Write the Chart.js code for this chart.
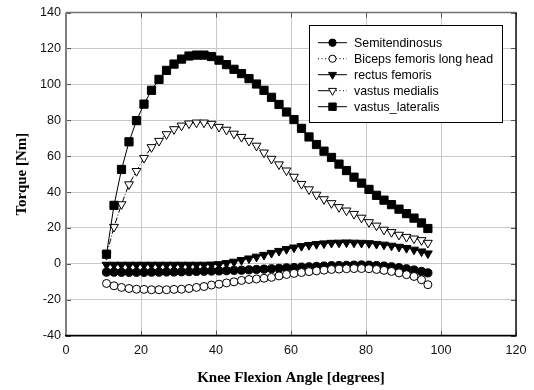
<!DOCTYPE html>
<html><head><meta charset="utf-8">
<script src="https://cdn.jsdelivr.net/npm/chart.js@4/dist/chart.umd.min.js"></script>
<style>html,body{margin:0;padding:0;background:#fff;}#c{display:block;}</style>
</head><body>
<canvas id="c" width="534" height="390"></canvas>
<script>
const angles = [10.8, 12.8, 14.8, 16.8, 18.8, 20.8, 22.8, 24.8, 26.8, 28.8, 30.8, 32.8, 34.8, 36.8, 38.8, 40.8, 42.8, 44.8, 46.8, 48.8, 50.8, 52.8, 54.8, 56.8, 58.8, 60.8, 62.8, 64.8, 66.8, 68.8, 70.8, 72.8, 74.8, 76.8, 78.8, 80.8, 82.8, 84.8, 86.8, 88.8, 90.8, 92.8, 94.8, 96.5];
const semitendinosus = [-4.6, -4.6, -4.7, -4.7, -4.7, -4.7, -4.6, -4.6, -4.5, -4.5, -4.4, -4.3, -4.2, -4.1, -4.0, -3.9, -3.8, -3.6, -3.5, -3.3, -3.1, -2.9, -2.7, -2.5, -2.2, -2.0, -1.8, -1.6, -1.4, -1.2, -1.0, -0.9, -0.8, -0.7, -0.6, -0.7, -0.9, -1.2, -1.6, -2.1, -2.7, -3.4, -4.2, -5.0];
const bicepsFemorisLongHead = [-10.9, -12.2, -13.1, -13.7, -14.1, -14.2, -14.4, -14.4, -14.4, -14.2, -14.1, -13.7, -13.1, -12.6, -11.8, -11.3, -10.6, -10.0, -9.2, -8.7, -8.4, -8.0, -7.5, -6.7, -5.9, -5.3, -4.8, -4.3, -3.9, -3.5, -3.1, -2.9, -2.7, -2.6, -2.6, -2.7, -3.1, -3.6, -4.2, -5.0, -6.0, -7.0, -8.8, -11.6];
const rectusFemoris = [-0.5, -0.5, -0.5, -0.5, -0.5, -0.5, -0.5, -0.5, -0.5, -0.5, -0.5, -0.5, -0.5, -0.5, -0.4, -0.2, 0.4, 1.2, 2.1, 3.0, 4.0, 5.0, 6.1, 7.2, 8.2, 9.1, 9.9, 10.5, 11.0, 11.4, 11.7, 11.8, 11.9, 11.8, 11.7, 11.5, 11.1, 10.7, 10.1, 9.5, 8.8, 7.9, 6.9, 5.8];
const vastusMedialis = [5.0, 20.6, 33.2, 44.3, 51.7, 59.0, 65.0, 68.5, 72.2, 75.0, 77.0, 78.2, 78.7, 78.7, 78.0, 76.3, 74.7, 72.5, 70.7, 68.5, 65.8, 62.0, 58.5, 55.4, 52.0, 48.5, 44.5, 41.5, 38.5, 36.0, 33.8, 31.6, 29.7, 27.8, 25.7, 23.2, 21.3, 19.0, 17.7, 16.2, 15.0, 14.1, 13.2, 11.7];
const vastusLateralis = [5.4, 32.6, 52.6, 68.0, 79.8, 89.0, 96.7, 102.8, 107.8, 111.3, 114.1, 115.8, 116.3, 116.3, 115.5, 113.5, 111.0, 108.4, 106.0, 103.2, 100.2, 96.7, 92.8, 88.8, 84.6, 80.4, 75.5, 70.7, 66.5, 62.8, 59.3, 55.6, 52.0, 48.3, 45.0, 41.5, 38.2, 35.5, 33.0, 30.5, 28.0, 25.5, 22.8, 19.7];
const seriesNames = ['Semitendinosus', 'Biceps femoris long head', 'rectus femoris', 'vastus medialis', 'vastus_lateralis'];
const xTicks = [0, 20, 40, 60, 80, 100, 120];
const yTicks = [-40, -20, 0, 20, 40, 60, 80, 100, 120, 140];
const xTitle = 'Knee Flexion Angle [degrees]';
const yTitle = 'Torque [Nm]';

const pts = vals => angles.map((a, i) => ({x: a, y: vals[i]}));
const SANS = 'Liberation Sans, Arial, sans-serif';
const SERIF = 'Liberation Serif, Times New Roman, serif';

const datasets = [
  {label: seriesNames[0], data: pts(semitendinosus), order: 5,
   borderColor: '#000', borderWidth: 1, borderDash: [],
   pointStyle: 'circle', pointRadius: 4.1, pointRotation: 0,
   pointBackgroundColor: '#000', pointBorderColor: '#000', pointBorderWidth: 1,
   legendDash: [[], []]},
  {label: seriesNames[1], data: pts(bicepsFemorisLongHead), order: 4,
   borderColor: '#000', borderWidth: 1, borderDash: [1, 2],
   pointStyle: 'circle', pointRadius: 4.0, pointRotation: 0,
   pointBackgroundColor: '#fff', pointBorderColor: '#000', pointBorderWidth: 1,
   legendDash: [[1, 2.5], [1, 2.5]]},
  {label: seriesNames[2], data: pts(rectusFemoris), order: 3,
   borderColor: '#000', borderWidth: 1, borderDash: [],
   pointStyle: 'triangle', pointRadius: 5.1, pointRotation: 180,
   pointBackgroundColor: '#000', pointBorderColor: '#000', pointBorderWidth: 1,
   legendDash: [[], []]},
  {label: seriesNames[3], data: pts(vastusMedialis), order: 2,
   borderColor: '#000', borderWidth: 1, borderDash: [6, 2, 1, 2],
   pointStyle: 'triangle', pointRadius: 5.1, pointRotation: 180,
   pointBackgroundColor: '#fff', pointBorderColor: '#000', pointBorderWidth: 1,
   legendDash: [[], [1, 2.5]]},
  {label: seriesNames[4], data: pts(vastusLateralis), order: 1,
   borderColor: '#000', borderWidth: 1, borderDash: [],
   pointStyle: 'rect', pointRadius: 5.8, pointRotation: 0,
   pointBackgroundColor: '#000', pointBorderColor: '#000', pointBorderWidth: 1,
   legendDash: [[], []]}
].map(d => Object.assign(d, {showLine: true, fill: false, tension: 0}));

const framePlugin = {
  id: 'frame',
  beforeDatasetsDraw(chart) {
    const {ctx, chartArea: a, scales: {x, y}} = chart;
    ctx.save();
    ctx.lineWidth = 1;
    ctx.strokeStyle = '#555';
    ctx.beginPath();
    xTicks.forEach(v => {
      const px = Math.round(x.getPixelForValue(v)) + 0.5;
      ctx.moveTo(px, a.bottom); ctx.lineTo(px, a.bottom - 5);
      ctx.moveTo(px, a.top); ctx.lineTo(px, a.top + 5);
    });
    yTicks.forEach(v => {
      const py = Math.round(y.getPixelForValue(v)) + 0.5;
      ctx.moveTo(a.left, py); ctx.lineTo(a.left + 5, py);
      ctx.moveTo(a.right, py); ctx.lineTo(a.right - 5, py);
    });
    ctx.stroke();
    ctx.strokeStyle = '#707070'; ctx.lineWidth = 1.5;
    ctx.beginPath(); ctx.moveTo(a.left, a.top); ctx.lineTo(a.right, a.top); ctx.stroke();
    ctx.strokeStyle = '#808080'; ctx.lineWidth = 2;
    ctx.beginPath(); ctx.moveTo(a.left, a.top); ctx.lineTo(a.left, a.bottom); ctx.stroke();
    ctx.strokeStyle = '#111'; ctx.lineWidth = 1.5;
    ctx.beginPath(); ctx.moveTo(a.right, a.top); ctx.lineTo(a.right, a.bottom); ctx.stroke();
    ctx.strokeStyle = '#000'; ctx.lineWidth = 1.8;
    ctx.beginPath(); ctx.moveTo(a.left - 1, a.bottom); ctx.lineTo(a.right + 0.75, a.bottom); ctx.stroke();
    ctx.restore();
  }
};

const legendPlugin = {
  id: 'customLegend',
  afterDatasetsDraw(chart) {
    const ctx = chart.ctx;
    const bx = 309.5, by = 25.5, bw = 193, bh = 97;
    ctx.save();
    ctx.fillStyle = '#fff';
    ctx.fillRect(bx, by, bw, bh);
    ctx.strokeStyle = '#000'; ctx.lineWidth = 1;
    ctx.strokeRect(bx, by, bw, bh);
    chart.data.datasets.forEach((ds, i) => {
      const yy = 42.7 + i * 16;
      const x0 = 318, x1 = 347, xm = 332.5;
      ctx.strokeStyle = '#000'; ctx.lineWidth = 1;
      ctx.setLineDash(ds.legendDash[0]);
      ctx.beginPath(); ctx.moveTo(x0, yy); ctx.lineTo(xm, yy); ctx.stroke();
      ctx.setLineDash(ds.legendDash[1]);
      ctx.beginPath(); ctx.moveTo(xm, yy); ctx.lineTo(x1, yy); ctx.stroke();
      ctx.setLineDash([]);
      ctx.fillStyle = ds.pointBackgroundColor;
      ctx.strokeStyle = ds.pointBorderColor;
      ctx.lineWidth = ds.pointBorderWidth;
      Chart.helpers.drawPoint(ctx, {pointStyle: ds.pointStyle, rotation: ds.pointRotation, radius: ds.pointRadius * 0.9, borderWidth: ds.pointBorderWidth}, xm, yy);
      ctx.fillStyle = '#000';
      ctx.font = '12.4px ' + SANS;
      ctx.textAlign = 'left'; ctx.textBaseline = 'middle';
      ctx.fillText(ds.label, 354, yy + 0.5);
    });
    ctx.restore();
  }
};

new Chart(document.getElementById('c').getContext('2d'), {
  type: 'scatter',
  data: {datasets},
  options: {
    responsive: false, animation: false, devicePixelRatio: 1,
    layout: {padding: {top: 11.7, right: 18, left: 0, bottom: 0}},
    plugins: {legend: {display: false}, tooltip: {enabled: false}},
    scales: {
      x: {
        type: 'linear', min: 0, max: 120,
        afterBuildTicks: s => { s.ticks = xTicks.map(v => ({value: v})); },
        afterFit: s => { s.height = 54.3; },
        grid: {color: '#c8c8c8', lineWidth: 1, drawTicks: false},
        border: {display: false},
        ticks: {padding: 7, color: '#111', font: {family: SANS, size: 12.6}, maxRotation: 0},
        title: {display: true, text: xTitle, color: '#000', font: {family: SERIF, size: 15, weight: 'bold'}, padding: {top: 0, bottom: 3}}
      },
      y: {
        type: 'linear', min: -40, max: 140,
        afterBuildTicks: s => { s.ticks = yTicks.map(v => ({value: v})); },
        afterFit: s => { s.width = 66; },
        grid: {color: '#c8c8c8', lineWidth: 1, drawTicks: false},
        border: {display: false},
        ticks: {padding: 5, color: '#111', font: {family: SANS, size: 12.6}},
        title: {display: true, text: yTitle, color: '#000', font: {family: SERIF, size: 15, weight: 'bold'}, padding: {top: 13, bottom: 0}}
      }
    }
  },
  plugins: [framePlugin, legendPlugin]
});
</script>
</body></html>
